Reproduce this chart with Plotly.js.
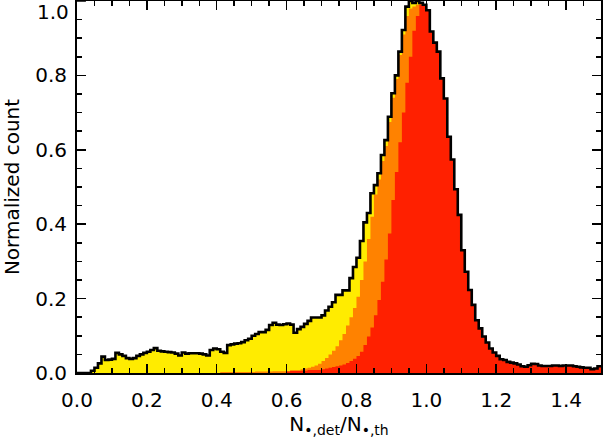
<!DOCTYPE html>
<html>
<head>
<meta charset="utf-8">
<script src="https://cdn.plot.ly/plotly-3.0.1.min.js"></script>
<style>
  html, body { margin: 0; padding: 0; background: #fff; }
  #chart { width: 603px; height: 440px; }
</style>
</head>
<body>
<div id="chart"></div>
<script>
// histogram bins: width 0.01 from 0 to 1.5 (150 bins)
var binWidth = 0.01;
var nBins = 150;

// all objects (yellow, black outline)
var countAll = [
  0, 0, 0, 0, 0.006, 0.014, 0.026, 0.044, 0.035, 0.036,
  0.038, 0.054, 0.050, 0.046, 0.040, 0.038, 0.040, 0.046, 0.050, 0.054,
  0.057, 0.062, 0.067, 0.060, 0.058, 0.057, 0.056, 0.055, 0.052, 0.047,
  0.055, 0.052, 0.053, 0.053, 0.053, 0.052, 0.050, 0.047, 0.062, 0.066,
  0.064, 0.057, 0.054, 0.075, 0.077, 0.079, 0.080, 0.083, 0.088, 0.092,
  0.100, 0.105, 0.110, 0.110, 0.116, 0.129, 0.135, 0.130, 0.129, 0.131,
  0.133, 0.130, 0.108, 0.118, 0.124, 0.132, 0.140, 0.149, 0.149, 0.149,
  0.155, 0.168, 0.178, 0.190, 0.210, 0.210, 0.222, 0.222, 0.255, 0.285,
  0.310, 0.355, 0.405, 0.430, 0.483, 0.505, 0.537, 0.586, 0.626, 0.689,
  0.752, 0.800, 0.864, 0.922, 0.985, 1.000, 0.995, 1.000, 0.995, 0.990,
  0.975, 0.918, 0.888, 0.864, 0.792, 0.738, 0.635, 0.574, 0.494, 0.425,
  0.330, 0.272, 0.223, 0.183, 0.142, 0.120, 0.098, 0.082, 0.066, 0.055,
  0.046, 0.037, 0.035, 0.030, 0.028, 0.026, 0.023, 0.018, 0.017, 0.021,
  0.025, 0.024, 0.020, 0.019, 0.019, 0.019, 0.020, 0.020, 0.019, 0.020,
  0.020, 0.020, 0.018, 0.017, 0.015, 0.014, 0.014, 0.010, 0.012, 0.018
];

// orange subset
var countMid = [
  0, 0, 0, 0, 0, 0, 0, 0, 0, 0,
  0, 0, 0, 0, 0, 0, 0, 0, 0, 0,
  0, 0, 0, 0, 0, 0, 0, 0, 0, 0,
  0, 0, 0, 0, 0, 0, 0, 0, 0, 0,
  0, 0.003, 0.003, 0.003, 0.003, 0.003, 0.003, 0.003, 0.003, 0.003,
  0.003, 0.004, 0.004, 0.004, 0.004, 0.004, 0.005, 0.005, 0.005, 0.005,
  0.005, 0.007, 0.007, 0.007, 0.010, 0.012, 0.014, 0.017, 0.020, 0.025,
  0.032, 0.040, 0.050, 0.060, 0.072, 0.088, 0.105, 0.128, 0.150, 0.175,
  0.205, 0.250, 0.300, 0.360, 0.420, 0.480, 0.520, 0.570, 0.610, 0.675,
  0.740, 0.790, 0.855, 0.910, 0.960, 0.980, 0.985, 0.990, 0.995, 0.990,
  0.975, 0.918, 0.888, 0.864, 0.792, 0.738, 0.635, 0.574, 0.494, 0.425,
  0.330, 0.272, 0.223, 0.183, 0.142, 0.120, 0.098, 0.082, 0.066, 0.055,
  0.046, 0.037, 0.035, 0.030, 0.028, 0.026, 0.023, 0.018, 0.017, 0.021,
  0.025, 0.024, 0.020, 0.019, 0.019, 0.019, 0.020, 0.020, 0.019, 0.020,
  0.020, 0.020, 0.018, 0.017, 0.015, 0.014, 0.014, 0.010, 0.012, 0.018
];

// red subset
var countCore = [
  0, 0, 0, 0, 0, 0, 0, 0, 0, 0,
  0, 0, 0, 0, 0, 0, 0, 0, 0, 0,
  0, 0, 0, 0, 0, 0, 0, 0, 0, 0,
  0, 0, 0, 0, 0, 0, 0, 0, 0, 0,
  0, 0, 0, 0, 0, 0, 0, 0, 0, 0,
  0, 0, 0, 0, 0, 0, 0, 0, 0, 0,
  0.004, 0.006, 0.006, 0.006, 0.006, 0.006, 0.008, 0.008, 0.008, 0.008,
  0.010, 0.012, 0.014, 0.016, 0.018, 0.020, 0.023, 0.027, 0.032, 0.038,
  0.046, 0.057, 0.075, 0.098, 0.122, 0.155, 0.196, 0.245, 0.305, 0.375,
  0.465, 0.540, 0.620, 0.700, 0.780, 0.850, 0.920, 0.960, 0.990, 0.990,
  0.975, 0.918, 0.888, 0.864, 0.792, 0.738, 0.635, 0.574, 0.494, 0.425,
  0.330, 0.272, 0.223, 0.183, 0.142, 0.120, 0.098, 0.082, 0.066, 0.055,
  0.046, 0.037, 0.035, 0.030, 0.028, 0.026, 0.023, 0.018, 0.017, 0.021,
  0.025, 0.024, 0.020, 0.019, 0.019, 0.019, 0.020, 0.020, 0.019, 0.020,
  0.020, 0.020, 0.018, 0.017, 0.015, 0.014, 0.014, 0.010, 0.012, 0.018
];

// y tick labels; the top one (1.0) is placed as an annotation so it stays inside the page
var yTickVals = [0, 0.2, 0.4, 0.6, 0.8];
var yTickText = ['0.0', '0.2', '0.4', '0.6', '0.8'];
var yTopLabel = '1.0';

// bin left edges plus the closing right edge, for 'hv' steps
var edges = [];
for (var i = 0; i <= nBins; i++) edges.push(Math.round(i * binWidth * 100) / 100);

function steps(vals) {
  return vals.concat([vals[vals.length - 1]]);
}

var font = 'DejaVu Sans, Arial, sans-serif';

var fillYellow = {
  x: edges, y: steps(countAll), type: 'scatter', mode: 'lines',
  line: {shape: 'hv', width: 0}, fill: 'tozeroy', fillcolor: '#ffec00',
  hoverinfo: 'none'
};
var fillOrange = {
  x: edges, y: steps(countMid), type: 'scatter', mode: 'lines',
  line: {shape: 'hv', width: 0}, fill: 'tozeroy', fillcolor: '#ff8200',
  hoverinfo: 'none'
};
var fillRed = {
  x: edges, y: steps(countCore), type: 'scatter', mode: 'lines',
  line: {shape: 'hv', width: 0}, fill: 'tozeroy', fillcolor: '#ff2000',
  hoverinfo: 'none'
};
var outline = {
  x: edges, y: steps(countAll), type: 'scatter', mode: 'lines',
  line: {shape: 'hv', width: 2.6, color: '#000'},
  hoverinfo: 'none'
};

var data = [fillYellow, fillOrange, fillRed, outline];

var axisCommon = {
  showgrid: false, zeroline: false,
  showline: true, linecolor: '#000', linewidth: 2,
  mirror: 'allticks',
  ticks: 'inside', ticklen: 9, tickwidth: 1.5, tickcolor: '#000',
  tickfont: {family: font, size: 20, color: '#000'}
};

var layout = {
  width: 603, height: 440,
  margin: {l: 77, r: 2, t: 1, b: 67},
  paper_bgcolor: '#fff', plot_bgcolor: '#fff',
  showlegend: false,
  font: {family: font, color: '#000'},
  xaxis: Object.assign({}, axisCommon, {
    range: [0, 1.5], tick0: 0, dtick: 0.2, tickformat: '.1f',
    minor: {dtick: 0.05, ticks: 'inside', ticklen: 5, tickwidth: 1.5, tickcolor: '#000'},
    ticklabelstandoff: 8,
    title: {text: 'N<sub>•,det</sub>/N<sub>•,th</sub>', font: {family: font, size: 20}, standoff: 6}
  }),
  yaxis: Object.assign({}, axisCommon, {
    range: [0, 1.0], tickmode: 'array', tickvals: yTickVals, ticktext: yTickText,
    minor: {dtick: 0.05, ticks: 'inside', ticklen: 5, tickwidth: 1.5, tickcolor: '#000'},
    ticklabelstandoff: 4,
    title: {text: 'Normalized count', font: {family: font, size: 20}, standoff: 10}
  }),
  shapes: [{
    // major tick at 1.0 on the left frame
    type: 'line', xref: 'paper', yref: 'y', x0: 0, x1: 0.017, y0: 1.0, y1: 1.0,
    line: {color: '#000', width: 1.5}
  }],
  annotations: [{
    text: yTopLabel, xref: 'paper', yref: 'y', x: 0, y: 1.0,
    xanchor: 'right', yanchor: 'top', xshift: -7, yshift: 2, borderpad: 0,
    showarrow: false, font: {family: font, size: 20, color: '#000'}
  }]
};

Plotly.newPlot('chart', data, layout, {displayModeBar: false, staticPlot: true});
</script>
</body>
</html>
